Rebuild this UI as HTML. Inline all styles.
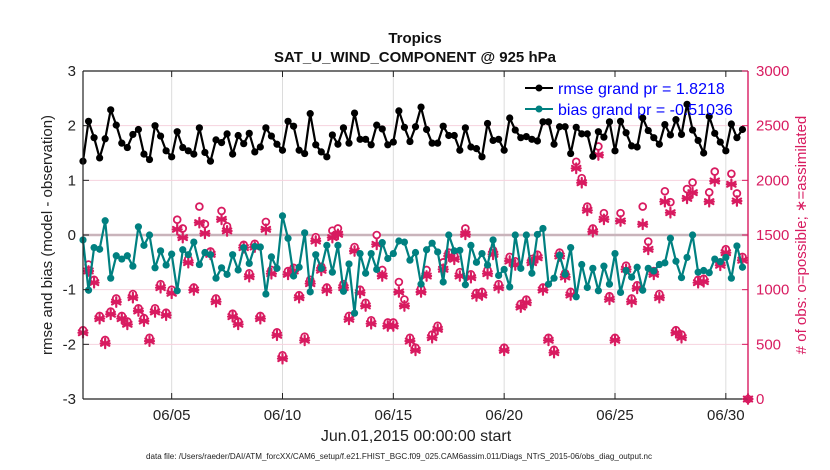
<!DOCTYPE html>
<html><head><meta charset="utf-8"><style>
html,body{margin:0;padding:0;background:#fff;}
svg{display:block;font-family:"Liberation Sans",Arial,sans-serif;}
</style></head><body>
<svg id="chart" width="830" height="470" viewBox="0 0 830 470" xmlns="http://www.w3.org/2000/svg">
<rect x="0" y="0" width="830" height="470" fill="#fff"/>
<text x="415" y="43" text-anchor="middle" font-size="15" font-weight="bold" fill="#111">Tropics</text>
<text x="415" y="62" text-anchor="middle" font-size="15" font-weight="bold" fill="#111">SAT_U_WIND_COMPONENT @ 925 hPa</text>
<g id="grid"></g>
<rect x="521" y="76" width="224" height="42" fill="#fff"/>
<g id="series"></g>
<g id="axes"></g>
<g>
  <line x1="525" y1="88" x2="553" y2="88" stroke="#000" stroke-width="2"/>
  <circle cx="539" cy="88" r="3.5" fill="#000"/>
  <text x="558" y="94" font-size="16" fill="#0000ff">rmse grand pr = 1.8218</text>
  <line x1="525" y1="109" x2="553" y2="109" stroke="#008080" stroke-width="2"/>
  <circle cx="539" cy="109" r="3.5" fill="#008080"/>
  <text x="558" y="115" font-size="16" fill="#0000ff">bias grand pr = -0.51036</text>
</g>
<text transform="translate(52,235) rotate(-90)" text-anchor="middle" font-size="15" fill="#222">rmse and bias (model - observation)</text>
<text transform="translate(806,235) rotate(-90)" text-anchor="middle" font-size="15" fill="#d81b60"># of obs: o=possible; ∗=assimilated</text>
<text x="416" y="441" text-anchor="middle" font-size="16" fill="#222">Jun.01,2015 00:00:00 start</text>
<text x="146" y="459" font-size="8" fill="#222" textLength="506" lengthAdjust="spacingAndGlyphs">data file: /Users/raeder/DAI/ATM_forcXX/CAM6_setup/f.e21.FHIST_BGC.f09_025.CAM6assim.011/Diags_NTrS_2015-06/obs_diag_output.nc</text>
</svg>
<script>
const rmse=[1.35,2.08,1.78,1.41,1.76,2.29,2.01,1.68,1.60,1.84,1.93,1.48,1.38,2.00,1.81,1.54,1.43,1.89,1.60,1.54,1.48,1.96,1.51,1.35,1.74,1.69,1.85,1.48,1.82,1.67,1.86,1.52,1.61,1.96,1.81,1.66,1.55,2.08,1.99,1.55,1.49,2.22,1.65,1.52,1.43,1.83,1.66,1.96,1.68,2.23,1.75,1.75,1.65,2.01,1.94,1.65,1.70,2.27,1.97,1.71,1.98,2.34,1.93,1.68,1.68,1.99,1.82,1.82,1.55,1.96,1.61,1.58,1.43,2.04,1.73,1.75,1.55,2.14,1.92,1.78,1.80,1.75,1.72,2.07,2.07,1.66,1.98,1.98,1.49,1.97,1.85,1.85,1.44,1.89,1.79,2.07,1.54,2.08,1.87,1.63,1.61,2.14,1.91,1.78,1.66,2.02,1.83,2.11,1.84,2.39,1.92,1.73,1.50,2.17,1.86,1.70,1.54,2.03,1.78,1.93];
const bias=[-0.09,-1.01,-0.23,-0.26,0.26,-0.79,-0.38,-0.44,-0.38,-0.57,0.15,-0.19,0.00,-0.60,-0.29,-0.55,-0.35,-1.02,-0.27,-0.36,-0.13,-0.54,-0.32,-0.36,-0.79,-0.60,-0.72,-0.36,-0.64,-0.23,-0.52,-0.21,-0.22,-1.08,-0.40,-0.61,0.35,-0.06,-0.75,-0.59,0.04,-1.04,-0.36,-0.61,-0.19,-0.68,-0.19,-1.03,-0.53,-1.43,-0.34,-0.70,-0.34,-0.63,-0.14,-0.43,-0.34,-0.11,-0.13,-0.46,-0.32,-0.90,-0.27,-0.15,-0.31,-0.86,0.00,-0.29,-0.28,-0.91,-0.19,-0.50,-0.34,-0.55,-0.09,-0.74,-0.63,-0.95,0.00,-0.61,0.00,-0.70,0.01,0.12,-0.90,-0.79,-0.37,-0.72,-0.23,-1.13,-0.54,-0.96,-0.61,-1.02,-0.57,-0.90,-0.34,-1.05,-0.65,-0.77,-0.59,-1.01,-0.61,-0.66,-0.54,-0.51,-0.06,-0.48,-0.78,-0.41,0.00,-0.68,-0.65,-0.69,-0.44,-0.49,-0.41,-0.79,-0.20,-0.59];
const assimilated=[606,1171,1064,735,509,775,887,735,683,927,805,713,530,796,1018,766,967,1552,1476,1247,997,1613,1515,1323,890,1643,1537,753,683,1384,1119,1390,735,1552,1146,583,369,1140,1171,927,537,1055,1445,1177,994,1476,1506,1018,729,1354,972,851,689,1415,1125,668,668,979,851,530,445,979,1125,561,637,1186,1308,1278,1125,1506,1110,942,951,1146,1323,1018,445,1262,1226,841,881,1247,1292,997,537,424,1308,1116,951,2110,1978,1726,1530,2232,1643,912,537,1628,1186,890,1012,1598,1369,1140,927,1805,1704,606,561,1835,1887,1064,1073,1805,1994,1223,1338,1964,1811,1269,0];
const possible=[630,1230,1090,760,540,800,920,760,710,960,830,740,560,830,1050,790,1000,1640,1560,1280,1020,1760,1600,1350,920,1720,1580,780,710,1410,1150,1420,760,1620,1180,610,400,1170,1200,950,570,1090,1480,1210,1020,1540,1560,1050,760,1390,1000,880,720,1500,1180,700,700,1070,910,560,470,1010,1180,590,670,1250,1340,1310,1160,1560,1140,970,980,1180,1360,1050,470,1300,1260,870,910,1280,1320,1020,560,450,1340,1150,980,2170,2020,1760,1560,2310,1700,940,560,1700,1220,920,1040,1760,1440,1170,960,1900,1800,630,590,1920,1980,1090,1100,1890,2080,1250,1370,2060,1880,1300,0];
const xTickLabels=["06/05","06/10","06/15","06/20","06/25","06/30"];
const xTickDays=[4,9,14,19,24,29];
const leftTicks=[3,2,1,0,-1,-2,-3];
const rightTicks=[3000,2500,2000,1500,1000,500,0];

const NS="http://www.w3.org/2000/svg";
const X0=83,X1=748,Y0=71,Y1=399;
function xDay(d){return X0+(X1-X0)*d/30;}
function xIdx(i){return xDay(i*0.25);}
function yL(v){return Y1-(v+3)/6*(Y1-Y0);}
function yR(n){return Y1-n/3000*(Y1-Y0);}
function mk(tag,attrs,parent){const e=document.createElementNS(NS,tag);for(const k in attrs)e.setAttribute(k,attrs[k]);parent.appendChild(e);return e;}
const grid=document.getElementById('grid'),series=document.getElementById('series'),axes=document.getElementById('axes');
const PINK="#d81b60";
xTickDays.forEach((d,k)=>{const l=mk('line',{x1:xDay(d),x2:xDay(d),y1:Y0,y2:Y1,stroke:'#dcdcdc','stroke-width':1},grid);

});
rightTicks.forEach(n=>{if(n===0||n===3000)return;const l=mk('line',{x1:X0,x2:X1,y1:yR(n),y2:yR(n),stroke:n===1500?'#c9b4bb':'#f6d3de','stroke-width':n===1500?2.5:1},grid);

});
function star(cx,cy,parent){const g=mk('g',{stroke:PINK,'stroke-width':2.2,'stroke-linecap':'round'},parent);
for(let a=0;a<3;a++){const t=a*Math.PI/3+Math.PI/2;mk('line',{x1:cx-4.8*Math.cos(t),y1:cy-4.8*Math.sin(t),x2:cx+4.8*Math.cos(t),y2:cy+4.8*Math.sin(t)},g);}
mk('line',{x1:cx-4.5,y1:cy,x2:cx+4.5,y2:cy},g);
mk('circle',{cx:cx,cy:cy,r:2.3,fill:PINK,stroke:'none'},g);return g;}
possible.forEach((n,i)=>{const c=mk('circle',{cx:xIdx(i),cy:yR(n),r:3.4,fill:'#fff',stroke:PINK,'stroke-width':1.8},series);

});
assimilated.forEach((n,i)=>{const g=star(xIdx(i),yR(n),series);

});
function drawLine(arr,color,name){
const pts=arr.map((v,i)=>xIdx(i).toFixed(1)+','+yL(v).toFixed(1)).join(' ');
const pl=mk('polyline',{points:pts,fill:'none',stroke:color,'stroke-width':2.2,'stroke-linejoin':'round'},series);


arr.forEach((v,i)=>{const c=mk('circle',{cx:xIdx(i),cy:yL(v),r:3.6,fill:color},series);

});}
drawLine(bias,'#008080','bias');
drawLine(rmse,'#000000','rmse');
mk('line',{x1:X0,x2:X0,y1:Y0,y2:Y1,stroke:'#222','stroke-width':1.2},axes);
mk('line',{x1:X0,x2:X1,y1:Y0,y2:Y0,stroke:'#222','stroke-width':1.2},axes);
mk('line',{x1:X0,x2:X1,y1:Y1,y2:Y1,stroke:'#222','stroke-width':1.2},axes);
mk('line',{x1:X1,x2:X1,y1:Y0,y2:Y1,stroke:PINK,'stroke-width':1.4},axes);
xTickDays.forEach((d,k)=>{mk('line',{x1:xDay(d),x2:xDay(d),y1:Y1,y2:Y1-6,stroke:'#222'},axes);mk('line',{x1:xDay(d),x2:xDay(d),y1:Y0,y2:Y0+6,stroke:'#222'},axes);
const t=mk('text',{x:xDay(d),y:420,'text-anchor':'middle','font-size':15,fill:'#222'},axes);t.textContent=xTickLabels[k];

});
leftTicks.forEach(v=>{mk('line',{x1:X0,x2:X0+6,y1:yL(v),y2:yL(v),stroke:'#222'},axes);
const t=mk('text',{x:76,y:yL(v)+5,'text-anchor':'end','font-size':15,fill:'#222'},axes);t.textContent=v;

});
rightTicks.forEach(n=>{mk('line',{x1:X1,x2:X1-6,y1:yR(n),y2:yR(n),stroke:PINK},axes);
const t=mk('text',{x:756,y:yR(n)+5,'font-size':15,fill:PINK},axes);t.textContent=n;

});
</script>
</body></html>
